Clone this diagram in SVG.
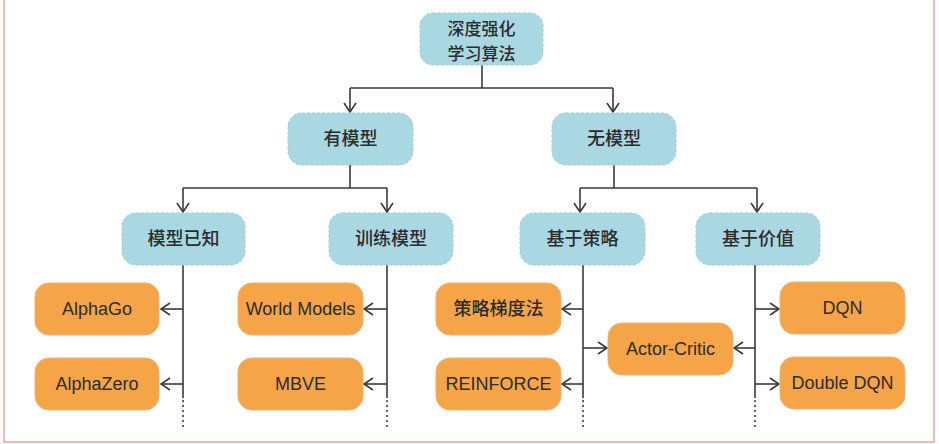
<svg xmlns="http://www.w3.org/2000/svg" width="939" height="444" viewBox="0 0 939 444">
<defs>
<marker id="arr" markerWidth="12" markerHeight="14" refX="10" refY="7" orient="auto" markerUnits="userSpaceOnUse">
<path d="M1,1 L10,7 L1,13" fill="none" stroke="#3a3a3a" stroke-width="1.6"/>
</marker>
<style>
.blue{fill:#a9d8e3;stroke:#9ccbd6;stroke-width:1;stroke-dasharray:3 2}
.orange{fill:#f5a448;stroke:#f0b070;stroke-width:1}
.cn{font-family:"Noto Sans CJK SC","Noto Sans",sans-serif;font-size:18px;font-weight:500;fill:#2c2c2c;text-anchor:middle}
.root{font-size:17px}
.en{font-family:"Liberation Sans",Arial,sans-serif;font-size:18px;fill:#2c2c2c;text-anchor:middle}
.ln{fill:none;stroke:#3a3a3a;stroke-width:1.6}
.dot{fill:none;stroke:#3a3a3a;stroke-width:1.6;stroke-dasharray:2 3}
</style>
</defs>
<rect x="0" y="0" width="939" height="444" fill="#ffffff"/>
<path d="M4,0 V442 H934 V0" fill="none" stroke="#e8a59a" stroke-width="1.5"/>

<g id="connectors">
<path class="ln" d="M482,65 V88"/>
<path class="ln" d="M350,88 H613"/>
<path class="ln" d="M350,88 V112" marker-end="url(#arr)"/>
<path class="ln" d="M613,88 V112" marker-end="url(#arr)"/>
<path class="ln" d="M350,165 V188"/>
<path class="ln" d="M183,188 H387"/>
<path class="ln" d="M183,188 V212" marker-end="url(#arr)"/>
<path class="ln" d="M387,188 V212" marker-end="url(#arr)"/>
<path class="ln" d="M614,165 V188"/>
<path class="ln" d="M580,188 H757"/>
<path class="ln" d="M580,188 V212" marker-end="url(#arr)"/>
<path class="ln" d="M757,188 V212" marker-end="url(#arr)"/>

<path class="ln" d="M183,265 V398"/>
<path class="dot" d="M183,400 V428"/>
<path class="ln" d="M183,309 H161" marker-end="url(#arr)"/>
<path class="ln" d="M183,384 H161" marker-end="url(#arr)"/>

<path class="ln" d="M387,265 V398"/>
<path class="dot" d="M387,400 V428"/>
<path class="ln" d="M387,309 H364" marker-end="url(#arr)"/>
<path class="ln" d="M387,384 H364" marker-end="url(#arr)"/>

<path class="ln" d="M583,265 V398"/>
<path class="dot" d="M583,400 V428"/>
<path class="ln" d="M583,309 H562" marker-end="url(#arr)"/>
<path class="ln" d="M583,384 H562" marker-end="url(#arr)"/>
<path class="ln" d="M583,348 H607" marker-end="url(#arr)"/>

<path class="ln" d="M755,265 V398"/>
<path class="dot" d="M755,400 V428"/>
<path class="ln" d="M755,348 H734" marker-end="url(#arr)"/>
<path class="ln" d="M755,309 H779" marker-end="url(#arr)"/>
<path class="ln" d="M755,384 H779" marker-end="url(#arr)"/>
</g>

<g id="root"><rect class="blue" x="420" y="13" width="123" height="52" rx="13"/>
<text class="cn root"><tspan x="481.5" y="35">深度强化</tspan><tspan x="481.5" y="59.8">学习算法</tspan></text></g>

<g id="model-based"><rect class="blue" x="288" y="113" width="125" height="52" rx="14"/><text class="cn" x="350.5" y="145">有模型</text></g>
<g id="model-free"><rect class="blue" x="552" y="113" width="124" height="52" rx="14"/><text class="cn" x="614" y="145">无模型</text></g>

<g id="known-model"><rect class="blue" x="122" y="213" width="123" height="52" rx="14"/><text class="cn" x="183.5" y="245">模型已知</text></g>
<g id="learn-model"><rect class="blue" x="329" y="213" width="124" height="52" rx="14"/><text class="cn" x="391" y="245">训练模型</text></g>
<g id="policy-based"><rect class="blue" x="520" y="213" width="125" height="52" rx="14"/><text class="cn" x="582.5" y="245">基于策略</text></g>
<g id="value-based"><rect class="blue" x="696" y="213" width="124" height="52" rx="14"/><text class="cn" x="758" y="245">基于价值</text></g>

<g id="alphago"><rect class="orange" x="35" y="283" width="124" height="52" rx="14"/><text class="en" x="97" y="315">AlphaGo</text></g>
<g id="alphazero"><rect class="orange" x="35" y="358" width="124" height="52" rx="14"/><text class="en" x="97" y="390">AlphaZero</text></g>
<g id="world-models"><rect class="orange" x="238" y="283" width="125" height="52" rx="14"/><text class="en" x="300.5" y="315">World Models</text></g>
<g id="mbve"><rect class="orange" x="238" y="358" width="125" height="52" rx="14"/><text class="en" x="300.5" y="390">MBVE</text></g>
<g id="policy-gradient"><rect class="orange" x="436" y="283" width="125" height="52" rx="14"/><text class="cn" x="498.5" y="315">策略梯度法</text></g>
<g id="reinforce"><rect class="orange" x="436" y="358" width="125" height="52" rx="14"/><text class="en" x="498.5" y="390">REINFORCE</text></g>
<g id="actor-critic"><rect class="orange" x="608" y="323" width="125" height="52" rx="14"/><text class="en" x="670.5" y="355">Actor-Critic</text></g>
<g id="dqn"><rect class="orange" x="780" y="282" width="125" height="52" rx="14"/><text class="en" x="842.5" y="314">DQN</text></g>
<g id="double-dqn"><rect class="orange" x="780" y="357" width="125" height="52" rx="14"/><text class="en" x="842.5" y="389">Double DQN</text></g>
</svg>
